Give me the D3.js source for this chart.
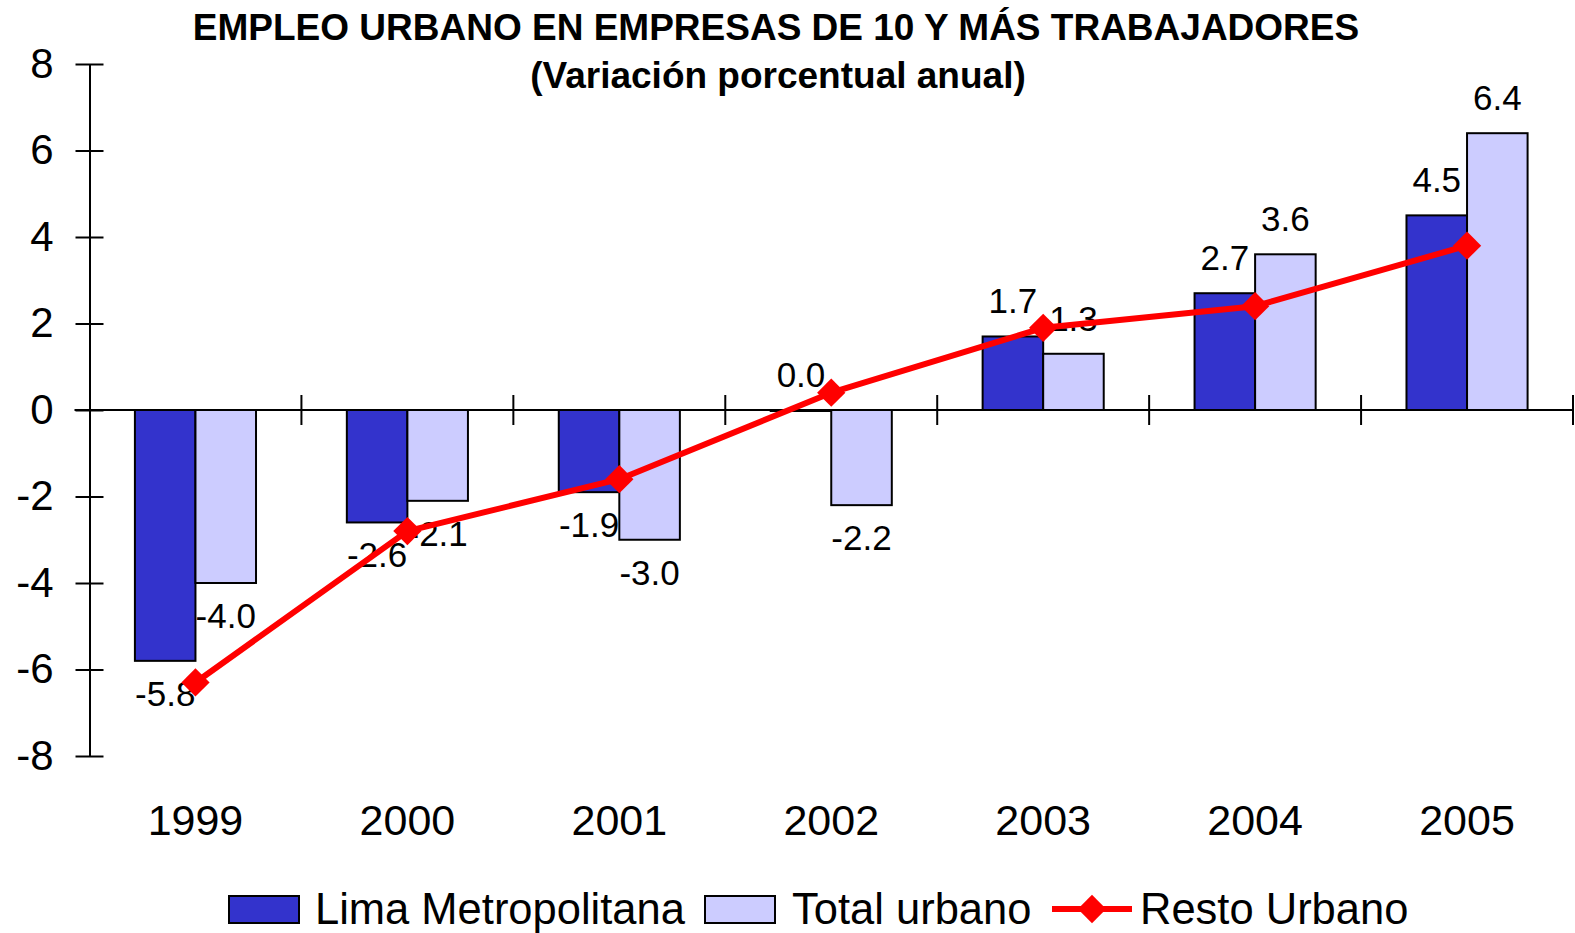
<!DOCTYPE html>
<html>
<head>
<meta charset="utf-8">
<script src="https://cdn.jsdelivr.net/npm/d3@7"></script>
<style>
  html, body { margin: 0; padding: 0; background: #fff; }
  svg { display: block; font-family: "Liberation Sans", Arial, sans-serif; }
</style>
</head>
<body>
<script>
let years = ["1999", "2000", "2001", "2002", "2003", "2004", "2005"];
let lima = [-5.8, -2.6, -1.9, 0.0, 1.7, 2.7, 4.5];
let totalUrbano = [-4.0, -2.1, -3.0, -2.2, 1.3, 3.6, 6.4];
let restoUrbano = [-6.3, -2.8, -1.6, 0.4, 1.9, 2.4, 3.8];
let yTicks = [-8, -6, -4, -2, 0, 2, 4, 6, 8];

let width = 1575;
let height = 933;

let colors = { lima: "#3333cc", total: "#ccccff", resto: "#ff0000" };

let x = d3.scaleBand(years, [89.5, 1573]).padding(0);
let xSeries = d3.scaleBand(["lima", "total"], [0, x.bandwidth()])
  .paddingInner(0)
  .paddingOuter(0.75);
let y = d3.scaleLinear([-8, 8], [756, 64]);

let barData = years.flatMap((yr, i) => [
  { year: yr, key: "lima", value: lima[i] },
  { year: yr, key: "total", value: totalUrbano[i] }
]);
let lineData = years.map((yr, i) => ({ year: yr, value: restoUrbano[i] }));

let svg = d3.create("svg")
  .attr("width", width)
  .attr("height", height);

// titles
svg.append("text")
  .text("EMPLEO URBANO EN EMPRESAS DE 10 Y MÁS TRABAJADORES")
  .attr("x", 776)
  .attr("y", 40)
  .attr("text-anchor", "middle")
  .attr("font-size", 37)
  .attr("font-weight", "bold");

svg.append("text")
  .text("(Variación porcentual anual)")
  .attr("x", 778)
  .attr("y", 88)
  .attr("text-anchor", "middle")
  .attr("font-size", 37)
  .attr("font-weight", "bold");

// y axis
let yAxis = d3.axisLeft(y)
  .tickValues(yTicks)
  .tickFormat(d => String(d))
  .tickSize(14)
  .tickPadding(22)
  .tickSizeOuter(0);

let yg = svg.append("g")
  .attr("transform", `translate(${x.range()[0]},0)`)
  .call(yAxis);
yg.select(".domain").attr("stroke", "#000").attr("stroke-width", 2);
yg.selectAll(".tick line").attr("x1", 14).attr("x2", -14).attr("stroke", "#000").attr("stroke-width", 2);
yg.selectAll(".tick text")
  .attr("font-size", 42)
  .attr("font-family", "Liberation Sans, Arial, sans-serif")
  .attr("fill", "#000");

// bars
svg.append("g")
  .selectAll("rect")
  .data(barData)
  .join("rect")
  .attr("x", d => x(d.year) + xSeries(d.key))
  .attr("y", d => Math.min(y(d.value), y(0)))
  .attr("width", xSeries.bandwidth())
  .attr("height", d => Math.max(1, Math.abs(y(d.value) - y(0))))
  .attr("fill", d => colors[d.key])
  .attr("stroke", "#000")
  .attr("stroke-width", 2);

// x axis at zero with ticks on category boundaries
let xg = svg.append("g").attr("transform", `translate(0,${y(0)})`);
xg.append("line")
  .attr("x1", x.range()[0] - 15)
  .attr("x2", x.range()[1])
  .attr("stroke", "#000")
  .attr("stroke-width", 2);
xg.selectAll(".btick")
  .data(years.slice(1).map(d => x(d)).concat([x.range()[1]]))
  .join("line")
  .attr("class", "btick")
  .attr("x1", d => d)
  .attr("x2", d => d)
  .attr("y1", -15)
  .attr("y2", 15)
  .attr("stroke", "#000")
  .attr("stroke-width", 2);

// year labels
svg.append("g")
  .selectAll("text")
  .data(years)
  .join("text")
  .text(d => d)
  .attr("x", d => x(d) + x.bandwidth() / 2)
  .attr("y", 835)
  .attr("text-anchor", "middle")
  .attr("font-size", 43);

// bar value labels
svg.append("g")
  .selectAll("text")
  .data(barData)
  .join("text")
  .text(d => d.value.toFixed(1))
  .attr("x", d => x(d.year) + xSeries(d.key) + xSeries.bandwidth() / 2)
  .attr("y", d => d.value >= 0 ? y(d.value) - 23 : y(d.value) + 45)
  .attr("text-anchor", "middle")
  .attr("font-size", 35);

// resto urbano line
let line = d3.line()
  .x(d => x(d.year) + x.bandwidth() / 2)
  .y(d => y(d.value));

svg.append("path")
  .datum(lineData)
  .attr("d", line)
  .attr("fill", "none")
  .attr("stroke", colors.resto)
  .attr("stroke-width", 6)
  .attr("stroke-linejoin", "round");

let diamond = d3.symbol(d3.symbolSquare, 400);
svg.append("g")
  .selectAll("path")
  .data(lineData)
  .join("path")
  .attr("d", diamond)
  .attr("transform", d => `translate(${x(d.year) + x.bandwidth() / 2},${y(d.value)}) rotate(45)`)
  .attr("fill", colors.resto);

// legend
let legendY = 909;
let legend = svg.append("g").attr("font-size", 43.5);

legend.append("rect")
  .attr("x", 229).attr("y", legendY - 13).attr("width", 70).attr("height", 27)
  .attr("fill", colors.lima).attr("stroke", "#000").attr("stroke-width", 2);
legend.append("text").text("Lima Metropolitana").attr("x", 315).attr("y", legendY + 15);

legend.append("rect")
  .attr("x", 705).attr("y", legendY - 13).attr("width", 70).attr("height", 27)
  .attr("fill", colors.total).attr("stroke", "#000").attr("stroke-width", 2);
legend.append("text").text("Total urbano").attr("x", 792).attr("y", legendY + 15);

legend.append("line")
  .attr("x1", 1052).attr("x2", 1132).attr("y1", legendY).attr("y2", legendY)
  .attr("stroke", colors.resto).attr("stroke-width", 6);
legend.append("path")
  .attr("d", diamond)
  .attr("transform", `translate(1092,${legendY}) rotate(45)`)
  .attr("fill", colors.resto);
legend.append("text").text("Resto Urbano").attr("x", 1140).attr("y", legendY + 15);

document.body.append(svg.node());
</script>
</body>
</html>
